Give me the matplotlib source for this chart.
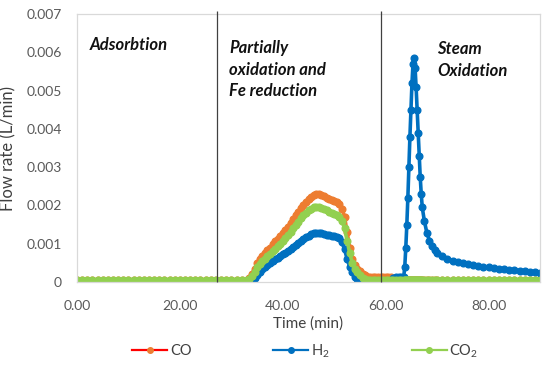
"""Flow rate of CO, H2 and CO2 over the three process stages."""

import matplotlib

matplotlib.use("Agg")
import matplotlib.pyplot as plt
import numpy as np
from matplotlib.lines import Line2D

# sampling times (min): adsorption 0-33, reduction 33.5-58, steam 58.5-90
time_min = [
    0, 1, 2, 3, 4, 5, 6, 7, 8, 9, 10, 11, 12, 13, 14, 15, 16,
    17, 18, 19, 20, 21, 22, 23, 24, 25, 26, 27, 28, 29, 30, 31, 32, 33,
    33.5, 34, 34.5, 35, 35.5, 36, 36.5, 37, 37.5, 38,
    38.5, 39, 39.5, 40, 40.5, 41, 41.5, 42, 42.5, 43,
    43.5, 44, 44.5, 45, 45.5, 46, 46.5, 47, 47.5, 48,
    48.5, 49, 49.5, 50, 50.5, 51, 51.5, 52, 52.5, 53,
    53.5, 54, 54.5, 55, 55.5, 56, 56.5, 57, 57.5, 58,
    58.5, 59, 59.5, 60, 60.5, 61, 61.5, 62, 62.5, 63, 63.5,
    63.7, 63.9, 64.1, 64.3, 64.5, 64.7, 64.9, 65.1, 65.3,
    65.5, 65.7, 65.9, 66.1, 66.3, 66.5, 66.7, 66.9, 67.1,
    67.5, 68, 68.5, 69, 69.5, 70,
    71, 72, 73, 74, 75, 76, 77, 78, 79, 80,
    81, 82, 83, 84, 85, 86, 87, 88, 89, 90,
]

# flow rates in 1e-3 L/min
co_flow = [
    0.05, 0.05, 0.05, 0.05, 0.05, 0.05, 0.05, 0.05, 0.05, 0.05, 0.05, 0.05,
    0.05, 0.05, 0.05, 0.05, 0.05, 0.05, 0.05, 0.05, 0.05, 0.05, 0.05, 0.05,
    0.05, 0.05, 0.05, 0.05, 0.05, 0.05, 0.05, 0.05, 0.05, 0.05,
    0.10, 0.20, 0.35, 0.50, 0.60, 0.68, 0.75, 0.83, 0.90, 0.98,
    1.06, 1.13, 1.20, 1.28, 1.36, 1.45, 1.55, 1.64, 1.74, 1.84,
    1.93, 2.02, 2.10, 2.17, 2.23, 2.27, 2.29, 2.29, 2.27, 2.24,
    2.20, 2.17, 2.14, 2.11, 2.08, 2.03, 1.92, 1.70, 1.30, 0.90,
    0.60, 0.45, 0.35, 0.28, 0.22, 0.17, 0.14, 0.13, 0.13, 0.13,
    0.13, 0.13, 0.13, 0.13, 0.12, 0.12, 0.10, 0.06, 0.05, 0.05, 0.05,
    0.05, 0.05, 0.05, 0.05, 0.05, 0.05, 0.05, 0.05, 0.05,
    0.05, 0.05, 0.05, 0.05, 0.05, 0.05, 0.05, 0.05, 0.05,
    0.05, 0.05, 0.05, 0.05, 0.05, 0.05,
    0.05, 0.05, 0.05, 0.05, 0.05, 0.05, 0.05, 0.05, 0.05, 0.05,
    0.05, 0.05, 0.05, 0.05, 0.05, 0.05, 0.05, 0.05, 0.05, 0.05,
]

h2_flow = [
    0.0, 0.0, 0.0, 0.0, 0.0, 0.0, 0.0, 0.0, 0.0, 0.0, 0.0, 0.0,
    0.0, 0.0, 0.0, 0.0, 0.0, 0.0, 0.0, 0.0, 0.0, 0.0, 0.0, 0.0,
    0.0, 0.0, 0.0, 0.0, 0.0, 0.0, 0.0, 0.0, 0.0, 0.0,
    0.0, 0.03, 0.10, 0.18, 0.26, 0.33, 0.39, 0.44, 0.49, 0.54,
    0.59, 0.63, 0.68, 0.72, 0.77, 0.82, 0.87, 0.92, 0.97, 1.02,
    1.07, 1.12, 1.17, 1.21, 1.25, 1.28, 1.29, 1.29, 1.28, 1.26,
    1.24, 1.22, 1.20, 1.19, 1.18, 1.14, 1.04, 0.85, 0.60, 0.40,
    0.25, 0.14, 0.07, 0.03, 0.0, 0.0, 0.0, 0.0, 0.0, 0.0,
    0.0, 0.0, 0.0, 0.0, 0.0, 0.02, 0.10, 0.12, 0.12, 0.12, 0.14,
    0.40, 0.90, 1.50, 2.20, 3.00, 3.80, 4.50, 5.20, 5.70,
    5.85, 5.60, 5.10, 4.50, 3.90, 3.30, 2.75, 2.30, 1.95,
    1.60, 1.28, 1.08, 0.94, 0.84, 0.76,
    0.67, 0.60, 0.56, 0.52, 0.49, 0.46, 0.44, 0.42, 0.40, 0.38,
    0.37, 0.35, 0.34, 0.32, 0.31, 0.30, 0.28, 0.27, 0.25, 0.24,
]

co2_flow = [
    0.05, 0.05, 0.05, 0.05, 0.05, 0.05, 0.05, 0.05, 0.05, 0.05, 0.05, 0.05,
    0.05, 0.05, 0.05, 0.05, 0.05, 0.05, 0.05, 0.05, 0.05, 0.05, 0.05, 0.05,
    0.05, 0.05, 0.05, 0.05, 0.05, 0.05, 0.05, 0.05, 0.05, 0.05,
    0.08, 0.15, 0.27, 0.40, 0.48, 0.55, 0.61, 0.68, 0.74, 0.80,
    0.87, 0.93, 1.00, 1.07, 1.15, 1.23, 1.31, 1.40, 1.49, 1.58,
    1.66, 1.74, 1.81, 1.87, 1.92, 1.95, 1.97, 1.96, 1.94, 1.91,
    1.87, 1.84, 1.81, 1.78, 1.75, 1.70, 1.60, 1.40, 1.08, 0.75,
    0.50, 0.35, 0.25, 0.17, 0.11, 0.08, 0.06, 0.05, 0.05, 0.05,
    0.05, 0.05, 0.05, 0.05, 0.05, 0.05, 0.05, 0.05, 0.05, 0.05, 0.05,
    0.05, 0.05, 0.05, 0.05, 0.05, 0.05, 0.05, 0.05, 0.05,
    0.05, 0.05, 0.05, 0.05, 0.05, 0.05, 0.05, 0.05, 0.05,
    0.05, 0.05, 0.05, 0.05, 0.05, 0.05,
    0.05, 0.05, 0.05, 0.05, 0.05, 0.05, 0.05, 0.05, 0.05, 0.05,
    0.05, 0.05, 0.05, 0.05, 0.05, 0.05, 0.05, 0.05, 0.05, 0.05,
]

stage_bounds = [27.3, 59.0]
x_ticks = [0, 20, 40, 60, 80]
y_ticks = [0, 0.001, 0.002, 0.003, 0.004, 0.005, 0.006, 0.007]

plt.rcParams["font.family"] = ["Lato", "DejaVu Sans"]
plt.rcParams["mathtext.fontset"] = "custom"
plt.rcParams["mathtext.rm"] = "Lato"
plt.rcParams["mathtext.it"] = "Lato:italic"

TICK_GREY = "#595959"
ORANGE = "#ED7D31"
BLUE = "#0070C0"
GREEN = "#92D050"


def main():
    t = np.array(time_min)
    co = np.array(co_flow) * 1e-3
    h2 = np.array(h2_flow) * 1e-3
    co2 = np.array(co2_flow) * 1e-3

    fig = plt.figure(figsize=(5.5, 3.65), dpi=100)
    ax = fig.add_axes([0.14, 0.2274, 0.842, 0.734])

    style = dict(marker="o", markersize=4.8, linewidth=2.6)
    ax.plot(t, co, color=ORANGE, markerfacecolor=ORANGE, markeredgecolor=ORANGE, **style)
    ax.plot(t, h2, color=BLUE, **style)
    ax.plot(t, co2, color=GREEN, **style)

    # stage separators
    ax.vlines(stage_bounds, 0, 0.00709, colors="#404040", linewidth=0.9, clip_on=False, zorder=5)

    lab = dict(fontsize=12, fontweight="bold", fontstyle="italic", color="#111111",
               va="center", ha="left", linespacing=1.45)
    ax.text(2.4, 0.0062, "Adsorbtion", **lab)
    ax.text(29.6, 0.00555, "Partially\noxidation and\nFe reduction", **lab)
    ax.text(70.0, 0.0058, "Steam\nOxidation", **lab)

    ax.set_xlim(0, 90)
    ax.set_ylim(0, 0.007)
    ax.set_xticks(x_ticks)
    ax.set_xticklabels([f"{v:.2f}" for v in x_ticks])
    ax.set_yticks(y_ticks)
    ax.set_yticklabels(["0"] + [f"{v:.3f}" for v in y_ticks[1:]])
    ax.tick_params(axis="both", length=0, labelsize=10, labelcolor=TICK_GREY)
    ax.tick_params(axis="x", pad=13)
    ax.tick_params(axis="y", pad=11)
    for s in ax.spines.values():
        s.set_color("#D9D9D9")
        s.set_linewidth(0.9)

    ax.set_xlabel("Time (min)", fontsize=11, color="#404040", labelpad=3)
    ax.set_ylabel("Flow rate (L/min)", fontsize=12, color="#404040", labelpad=7)

    handles = [
        Line2D([], [], color="#FF0000", lw=1.6, marker="o", markersize=4,
               markerfacecolor=ORANGE, markeredgecolor=ORANGE),
        Line2D([], [], color=BLUE, lw=1.6, marker="o", markersize=4),
        Line2D([], [], color=GREEN, lw=1.6, marker="o", markersize=4),
    ]
    fig.legend(handles, ["CO", r"H$_\mathregular{2}$", r"CO$_\mathregular{2}$"],
               loc="center", bbox_to_anchor=(0.555, 1 - 351 / 365), ncol=3,
               frameon=False, fontsize=10.5, labelcolor="#404040",
               handlelength=2.4, handletextpad=0.2, columnspacing=5.6)

    fig.savefig("out.png", dpi=100)
    plt.close(fig)


if __name__ == "__main__":
    main()
